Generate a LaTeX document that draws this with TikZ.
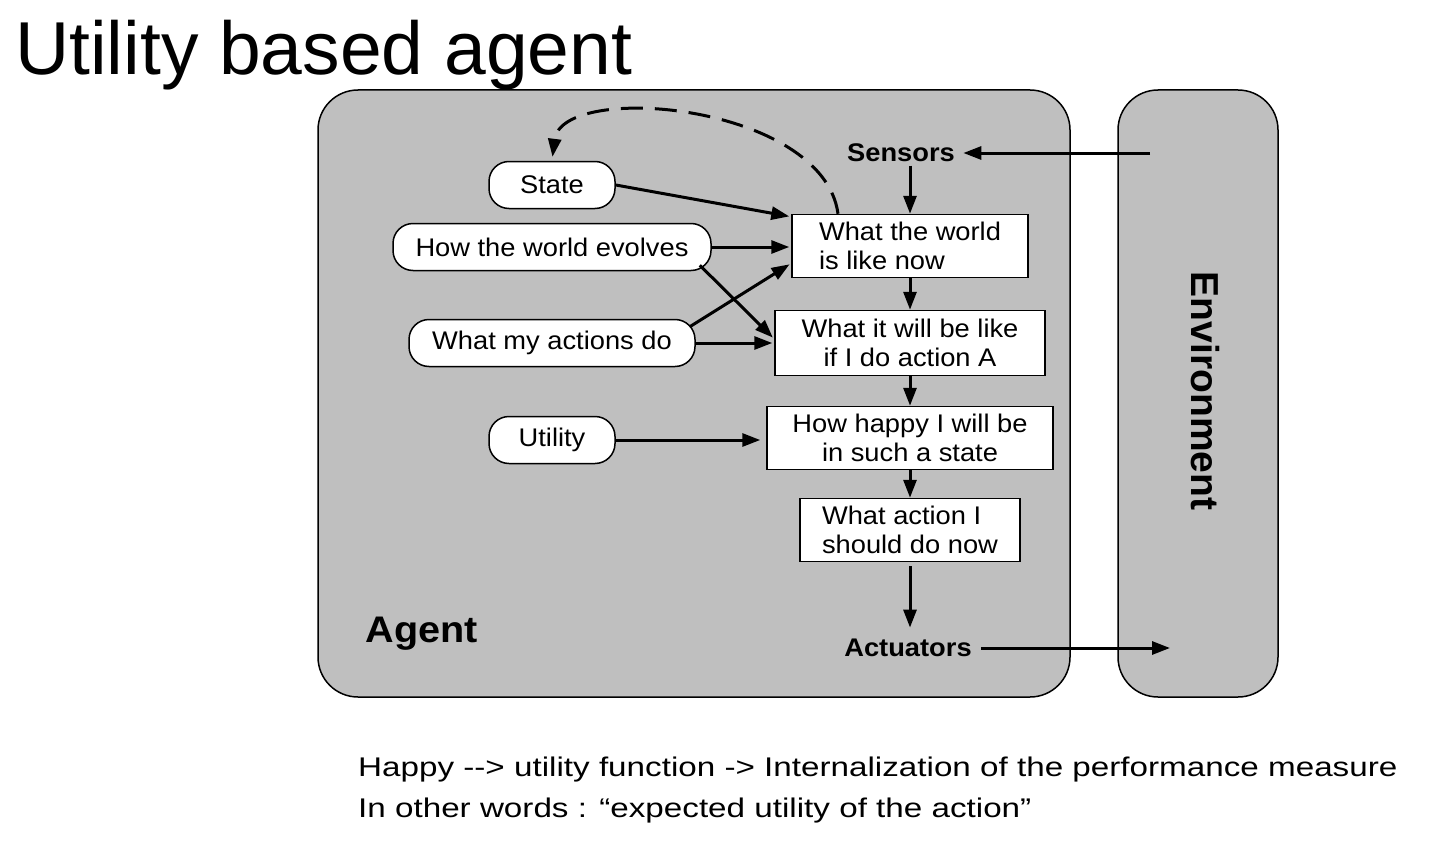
\documentclass[tikz,border=0pt]{standalone}
\usepackage{fontspec}
\setmainfont{Liberation Sans}
\newfontfamily\diagfont[FakeStretch=1.07]{Liberation Sans}
\newfontfamily\notefont[FakeStretch=1.23]{Liberation Sans}
\usetikzlibrary{arrows.meta}
\definecolor{agentgray}{RGB}{191,191,191}

\begin{document}
\begin{tikzpicture}[x=1pt,y=-1pt,
	  pill/.style={draw, line width=1.5pt, fill=white, rounded corners=20pt, minimum height=47pt, inner sep=0pt, font=\diagfont\fontsize{25.5}{28.5}\selectfont},
	  box/.style={draw, line width=1.5pt, fill=white, minimum height=63pt, inner sep=0pt, font=\diagfont\fontsize{25.5}{28.5}\selectfont},
	  lbl/.style={font=\diagfont\bfseries\fontsize{25.5}{28.5}\selectfont},
	  note/.style={anchor=base west, inner sep=0pt, font=\notefont\fontsize{27}{41}\selectfont},
	  arr/.style={-{Triangle[length=18pt,width=13pt]}, line width=3pt}]
	  \useasboundingbox (0,0) rectangle (1434,856);

	  \node [ anchor=base west, inner sep=0pt, font=\fontsize{75}{80}\selectfont ] (title) at (15,75) {Utility based agent};

	  \draw [ fill=agentgray, line width=1.5pt, rounded corners=40pt ] (318,90) rectangle (1070,697);
	  \draw [ fill=agentgray, line width=1.5pt, rounded corners=40pt ] (1118,90) rectangle (1278,697);

	  \node [ pill, minimum width=126pt ] (state) at (552,185) {State};
	  \node [ pill, minimum width=318pt ] (evolves) at (552,247) {How the world evolves};
	  \node [ pill, minimum width=286pt ] (actions) at (552,343) {What my actions do};
	  \node [ pill, minimum width=126pt ] (utility) at (552,440) {Utility};

	  \node [ box, minimum width=236pt, align=left ] (world) at (910,246) {What the world\\is like now};
	  \node [ box, minimum width=270pt, minimum height=65pt, align=center ] (future) at (910,343) {What it will be like\\if I do action A};
	  \node [ box, minimum width=286pt, align=center ] (happy) at (910,438) {How happy I will be\\in such a state};
	  \node [ box, minimum width=220pt, align=left ] (decide) at (910,530) {What action I\\should do now};

	  \node [ lbl ] (sensors) at (901,153) {Sensors};
	  \node [ lbl ] (actuators) at (908,648) {Actuators};
	  \node [ font=\diagfont\bfseries\fontsize{37}{40}\selectfont ] (agent) at (422,634) {Agent};
	  \node [ font=\bfseries\fontsize{39}{44}\selectfont, rotate=-90 ] (env) at (1205,391) {Environment};

	  \coordinate (envin) at (1150,153);
	  \coordinate (envout) at (1170,648);

	  \draw [ arr, shorten >=5pt ] (envin) -- (sensors);
	  \draw [ arr ] (sensors.south -| world.north) -- (world.north);
	  \draw [ arr, shorten >=2pt ] (state.east) -- ([yshift=-3pt]world.north west);
	  \draw [ arr, shorten >=2pt ] (evolves.east) -- (evolves.east -| world.west);
	  \draw [ arr, shorten >=2pt ] ([xshift=-12pt,yshift=6pt]evolves.south east) -- ([yshift=4pt]future.west);
	  \draw [ arr, shorten >=2pt ] ([xshift=-6pt,yshift=-8pt]actions.north east) -- ([yshift=15pt]world.south west);
	  \draw [ arr, shorten >=2pt ] (actions.east) -- (actions.east -| future.west);
	  \draw [ arr, shorten >=6pt ] (utility.east) -- (utility.east -| happy.west);

	  \draw [ arr ] (world) -- (future);
	  \draw [ arr ] (future) -- (happy);
	  \draw [ arr ] (happy) -- (decide);
	  \draw [ arr, shorten <=4pt, shorten >=8pt ] (decide.south) -- (decide.south |- actuators.north);
	  \draw [ arr, shorten <=6pt ] (actuators) -- (envout);

	  \draw [ arr, dash pattern=on 22pt off 12pt, shorten >=4pt ] ([xshift=-72pt]world.north) .. controls +(-15,-110) and +(10,-80) .. (state.north);

	  \node [ note ] (happynote) at (358,776) {Happy -{}-{}> utility function -> Internalization of the performance measure};
	  \node [ note ] (words) at (358,817) {In other words : “expected utility of the action”};
	\end{tikzpicture}
\end{document}
